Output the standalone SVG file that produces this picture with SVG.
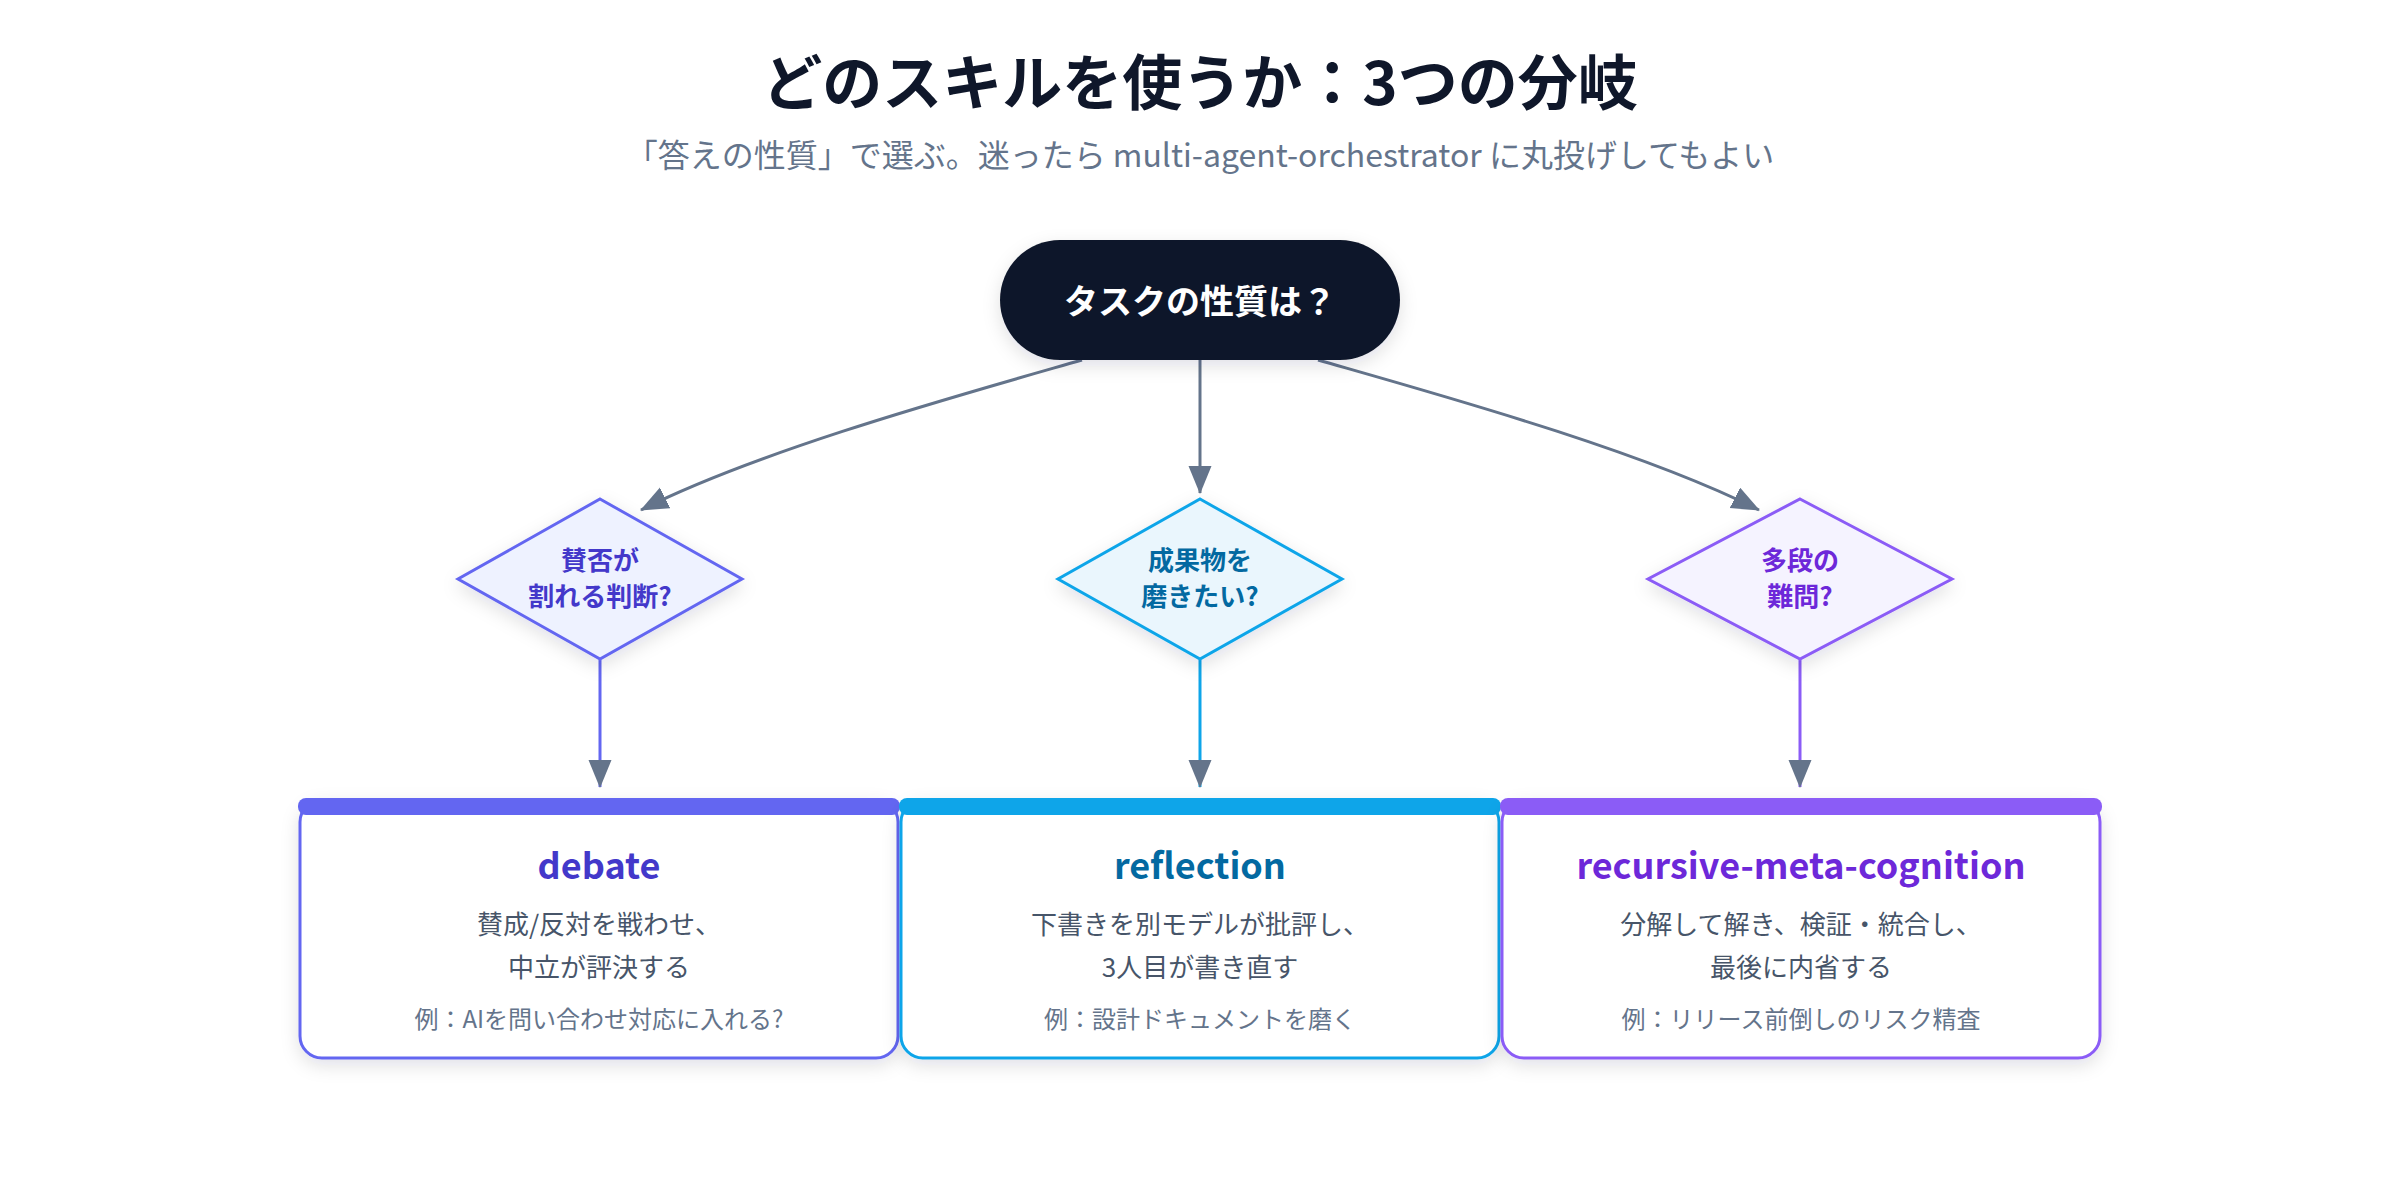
<svg xmlns="http://www.w3.org/2000/svg" width="2400" height="1200" viewBox="0 0 2400 1200">
<defs>
<style>
text{font-family:"Noto Sans CJK JP","Noto Sans",sans-serif;text-anchor:middle}
.title{font-size:60px;font-weight:700;fill:#0f172a}
.sub{font-size:32px;fill:#64748b}
.start{font-size:34px;font-weight:700;fill:#ffffff}
.dtext{font-size:26px;font-weight:700}
.btitle{font-size:36px;font-weight:700}
.desc{font-size:26px;fill:#475569}
.ex{font-size:24px;fill:#64748b}
.edge{fill:none;stroke-width:3}
.gray{stroke:#64748b}
</style>
<filter id="sh" x="-20%" y="-20%" width="140%" height="150%">
<feDropShadow dx="0" dy="6" stdDeviation="9" flood-color="#0f172a" flood-opacity="0.12"/>
</filter>
<marker id="arr" markerUnits="userSpaceOnUse" markerWidth="30" markerHeight="24" refX="27" refY="11.5" orient="auto">
<path d="M0,0 L28,11.5 L0,23 Z" fill="#64748b"/>
</marker>
</defs>
<rect width="2400" height="1200" fill="#ffffff"/>
<text class="title" x="1200" y="105">どのスキルを使うか：3つの分岐</text>
<text class="sub" x="1200" y="167">「答えの性質」で選ぶ。迷ったら multi-agent-orchestrator に丸投げしてもよい</text>

<g id="connectors">
<path class="edge gray" d="M1082,360 C960,395 760,450 641,510" marker-end="url(#arr)"/>
<path class="edge gray" d="M1200,360 L1200,493" marker-end="url(#arr)"/>
<path class="edge gray" d="M1318,360 C1440,395 1640,450 1759,510" marker-end="url(#arr)"/>
<path class="edge" stroke="#6366f1" d="M600,660 L600,787" marker-end="url(#arr)"/>
<path class="edge" stroke="#0ea5e9" d="M1200,660 L1200,787" marker-end="url(#arr)"/>
<path class="edge" stroke="#8b5cf6" d="M1800,660 L1800,787" marker-end="url(#arr)"/>
</g>

<g id="start">
<rect x="1000" y="240" width="400" height="120" rx="60" fill="#0f172a" filter="url(#sh)"/>
<text class="start" x="1200" y="314">タスクの性質は？</text>
</g>

<g id="q-debate">
<polygon points="600,499 742,579 600,659 458,579" fill="#eef2ff" stroke="#6366f1" stroke-width="3" filter="url(#sh)"/>
<text class="dtext" x="600" y="570" fill="#4338ca">賛否が</text>
<text class="dtext" x="600" y="606" fill="#4338ca">割れる判断?</text>
</g>

<g id="q-reflection">
<polygon points="1200,499 1342,579 1200,659 1058,579" fill="#eaf6fd" stroke="#0ea5e9" stroke-width="3" filter="url(#sh)"/>
<text class="dtext" x="1200" y="570" fill="#0369a1">成果物を</text>
<text class="dtext" x="1200" y="606" fill="#0369a1">磨きたい?</text>
</g>

<g id="q-recursive">
<polygon points="1800,499 1952,579 1800,659 1648,579" fill="#f5f3ff" stroke="#8b5cf6" stroke-width="3" filter="url(#sh)"/>
<text class="dtext" x="1800" y="570" fill="#6d28d9">多段の</text>
<text class="dtext" x="1800" y="606" fill="#6d28d9">難問?</text>
</g>

<g id="debate">
<rect x="300" y="800" width="598" height="258" rx="22" fill="#ffffff" stroke="#6366f1" stroke-width="3" filter="url(#sh)"/>
<rect x="298" y="798" width="602" height="17" rx="8" fill="#6366f1"/>
<text class="btitle" x="599" y="879" fill="#4338ca">debate</text>
<text class="desc" x="599" y="934">賛成/反対を戦わせ、</text>
<text class="desc" x="599" y="977">中立が評決する</text>
<text class="ex" x="599" y="1028">例：AIを問い合わせ対応に入れる?</text>
</g>

<g id="reflection">
<rect x="901" y="800" width="598" height="258" rx="22" fill="#ffffff" stroke="#0ea5e9" stroke-width="3" filter="url(#sh)"/>
<rect x="899" y="798" width="602" height="17" rx="8" fill="#0ea5e9"/>
<text class="btitle" x="1200" y="879" fill="#0369a1">reflection</text>
<text class="desc" x="1200" y="934">下書きを別モデルが批評し、</text>
<text class="desc" x="1200" y="977">3人目が書き直す</text>
<text class="ex" x="1200" y="1028">例：設計ドキュメントを磨く</text>
</g>

<g id="recursive-meta-cognition">
<rect x="1502" y="800" width="598" height="258" rx="22" fill="#ffffff" stroke="#8b5cf6" stroke-width="3" filter="url(#sh)"/>
<rect x="1500" y="798" width="602" height="17" rx="8" fill="#8b5cf6"/>
<text class="btitle" x="1801" y="879" fill="#6d28d9">recursive-meta-cognition</text>
<text class="desc" x="1801" y="934">分解して解き、検証・統合し、</text>
<text class="desc" x="1801" y="977">最後に内省する</text>
<text class="ex" x="1801" y="1028">例：リリース前倒しのリスク精査</text>
</g>
</svg>
